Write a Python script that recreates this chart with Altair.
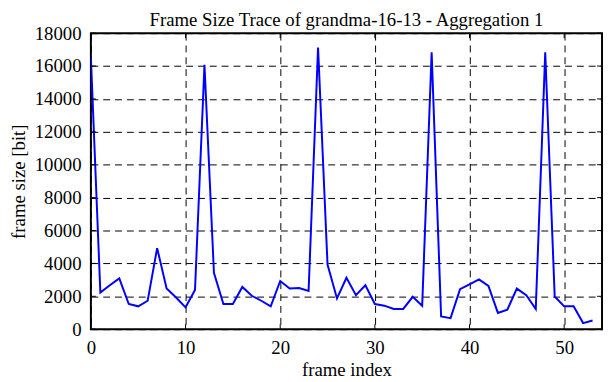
import altair as alt
import pandas as pd

frame_index = list(range(54))
frame_size = [16530, 2230, 2670, 3090, 1530, 1390, 1730, 4930, 2470, 1930,
              1330, 2390, 16070, 3430, 1530, 1530, 2570, 2030, 1730, 1390,
              2930, 2470, 2500, 2330, 17130, 3930, 1870, 3130, 2070, 2670,
              1530, 1430, 1230, 1230, 1970, 1430, 16830, 770, 670, 2430,
              2730, 3030, 2630, 990, 1190, 2470, 2070, 1230, 16830, 1990,
              1390, 1390, 370, 530]
x_ticks = [0, 10, 20, 30, 40, 50]
y_ticks = [0, 2000, 4000, 6000, 8000, 10000, 12000, 14000, 16000, 18000]

FONT = "Liberation Serif"
W, H = 518, 300

df = pd.DataFrame({"x": frame_index, "y": frame_size})
xt = pd.DataFrame({"x": x_ticks})
yt = pd.DataFrame({"y": y_ticks})

xscale = alt.Scale(domain=[0, 54], nice=False, zero=False)
yscale = alt.Scale(domain=[0, 18000], nice=False)

axis_common = dict(grid=True, gridColor="black", gridDash=[7, 5], gridOpacity=1,
                   gridWidth=1, domain=False, ticks=False, labelPadding=10,
                   format="d", labelOverlap=False, labelFlush=False, labelFont=FONT,
                   titleFont=FONT, labelFontSize=19, titleFontSize=19,
                   labelColor="black", titleColor="black", titleFontWeight="normal",
                   labelFontWeight="normal")
xaxis = alt.Axis(values=x_ticks, titlePadding=3, **axis_common)
yaxis = alt.Axis(values=y_ticks, titlePadding=6, **axis_common)

X = lambda: alt.X("x:Q", scale=xscale, axis=xaxis, title="frame index")
Y = lambda: alt.Y("y:Q", scale=yscale, axis=yaxis, title="frame size [bit]")

line = alt.Chart(df).mark_line(color="#0000ff", strokeWidth=2, clip=True).encode(
    x=X(), y=Y())

tl = alt.Chart(yt).mark_rule(color="black", strokeWidth=1).encode(
    y=Y(), x=alt.value(0), x2=alt.value(5))
tr = alt.Chart(yt).mark_rule(color="black", strokeWidth=1).encode(
    y=Y(), x=alt.value(W), x2=alt.value(W - 5))
tb = alt.Chart(xt).mark_rule(color="black", strokeWidth=1).encode(
    x=X(), y=alt.value(H), y2=alt.value(H - 5))
tt = alt.Chart(xt).mark_rule(color="black", strokeWidth=1).encode(
    x=X(), y=alt.value(0), y2=alt.value(5))

chart = alt.layer(line, tl, tr, tb, tt).properties(
    width=W, height=H,
    title=alt.Title("Frame Size Trace of grandma-16-13 - Aggregation 1",
                    font=FONT, fontSize=19, fontWeight="normal", color="black",
                    anchor="middle", offset=0, dy=6),
    autosize=alt.AutoSizeParams(type="none"),
    padding={"left": 84, "top": 23, "right": 2, "bottom": 50},
    background="white",
).configure_view(stroke="black", strokeWidth=2)

chart.save("out.html", embed_options={"renderer": "svg", "actions": False})
